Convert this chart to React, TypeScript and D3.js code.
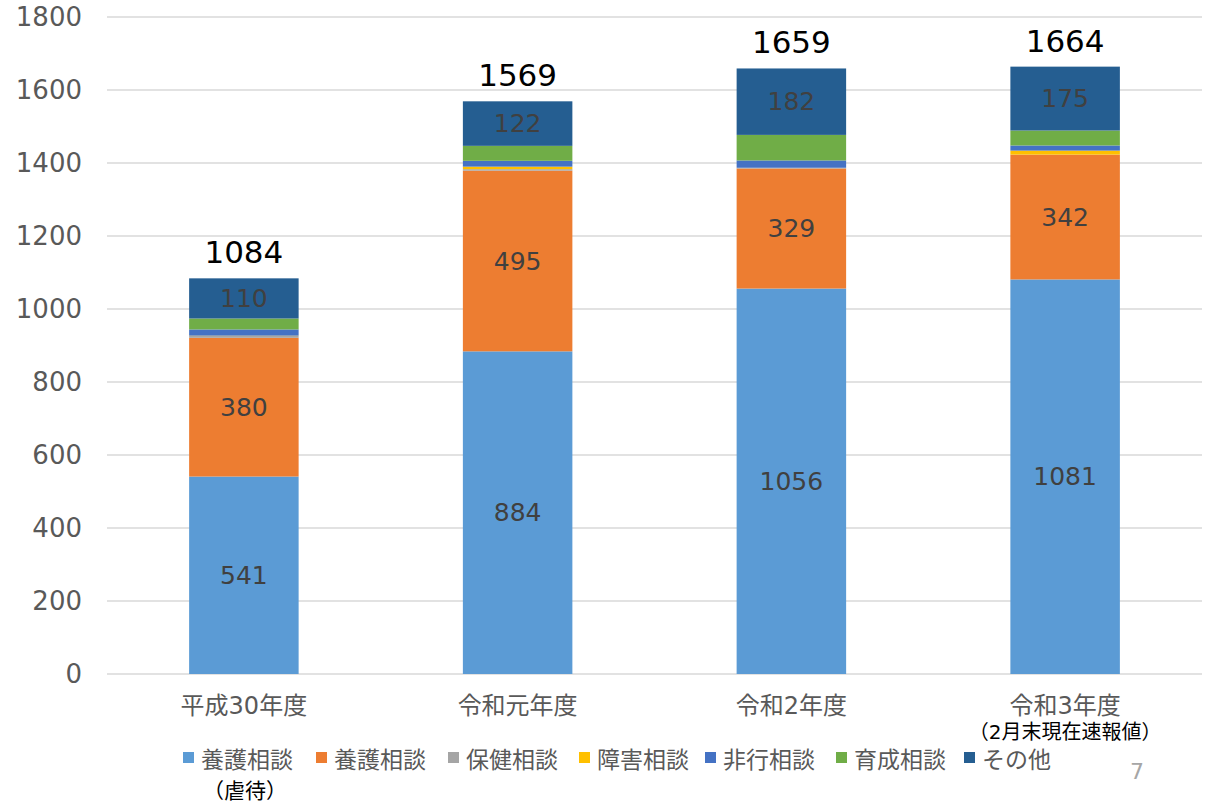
import { useMemo } from "react";
import * as d3 from "d3";

const categories = ["平成30年度", "令和元年度", "令和2年度", "令和3年度"];
const seriesNames = ["養護相談", "養護相談", "保健相談", "障害相談", "非行相談", "育成相談", "その他"];
const seriesColors = ["#5B9BD5", "#ED7D31", "#A5A5A5", "#FFC000", "#4472C4", "#70AD47", "#255E91"];

// per category, in stack order (bottom -> top)
const abuse = [541, 884, 1056, 1081];
const nursing = [380, 495, 329, 342];
const health = [5, 4, 2, 0];
const disability = [1, 7, 0, 11];
const delinquency = [17, 16, 20, 14];
const upbringing = [30, 41, 70, 41];
const other = [110, 122, 182, 175];
const totals = [1084, 1569, 1659, 1664];
const yTicks = [0, 200, 400, 600, 800, 1000, 1200, 1400, 1600, 1800];
const labelledSeries = [0, 1, 6];

const numFont = "'DejaVu Sans', 'Noto Sans CJK JP', sans-serif";
const jpFont = "'Noto Sans CJK JP', sans-serif";

export default function App() {
  const width = 1212;
  const height = 804;
  const plot = { left: 107, right: 1202, top: 17, bottom: 674 };

  const series = [abuse, nursing, health, disability, delinquency, upbringing, other];

  const x = d3
    .scaleBand<string>()
    .domain(categories)
    .range([plot.left, plot.right])
    .paddingInner(0.6)
    .paddingOuter(0.3);
  const y = d3.scaleLinear().domain([0, 1800]).range([plot.bottom, plot.top]);

  const stacked = useMemo(() => {
    const rows = categories.map((c, i) => {
      const r: any = { cat: c };
      series.forEach((s, k) => (r["s" + k] = s[i]));
      return r;
    });
    return d3.stack<any>().keys(series.map((_, k) => "s" + k))(rows);
  }, []);

  const legendX = [183, 316, 448, 579, 705, 836, 964];

  return (
    <svg width={width} height={height} style={{ position: "absolute", left: 0, top: 0 }}>
      <rect width={width} height={height} fill="#fff" />
      {yTicks.map((t) => (
        <g key={t}>
          <line x1={plot.left} x2={plot.right} y1={y(t)} y2={y(t)} stroke="#D9D9D9" strokeWidth={1.5} />
          <text
            x={82}
            y={y(t)}
            textAnchor="end"
            dominantBaseline="central"
            fontFamily={numFont}
            fontSize={26}
            fill="#595959"
          >
            {t}
          </text>
        </g>
      ))}

      {stacked.map((layer, k) => (
        <g key={k} fill={seriesColors[k]}>
          {layer.map((d, i) => {
            const h = y(d[0]) - y(d[1]);
            if (h <= 0) return null;
            return (
              <rect
                key={i}
                x={x(categories[i])}
                y={y(d[1])}
                width={x.bandwidth()}
                height={h}
              />
            );
          })}
        </g>
      ))}

      {stacked
        .filter((_, k) => labelledSeries.includes(k))
        .map((layer) =>
          layer.map((d, i) => (
            <text
              key={layer.key + i}
              x={(x(categories[i]) ?? 0) + x.bandwidth() / 2}
              y={(y(d[0]) + y(d[1])) / 2}
              textAnchor="middle"
              dominantBaseline="central"
              fontFamily={numFont}
              fontSize={25}
              fill="#404040"
            >
              {d[1] - d[0]}
            </text>
          ))
        )}

      {totals.map((t, i) => (
        <text
          key={i}
          x={(x(categories[i]) ?? 0) + x.bandwidth() / 2}
          y={y(t) - 15}
          textAnchor="middle"
          fontFamily={numFont}
          fontSize={31}
          fill="#000"
        >
          {t}
        </text>
      ))}

      {categories.map((c) => (
        <text
          key={c}
          x={(x(c) ?? 0) + x.bandwidth() / 2}
          y={706}
          textAnchor="middle"
          dominantBaseline="central"
          fontFamily={numFont}
          fontSize={24}
          fill="#595959"
        >
          {c}
        </text>
      ))}
      <text
        x={(x(categories[3]) ?? 0) + x.bandwidth() / 2}
        y={732}
        textAnchor="middle"
        dominantBaseline="central"
        fontFamily={numFont}
        fontSize={20}
        fill="#000"
      >
        （2月末現在速報値）
      </text>

      {seriesNames.map((n, k) => (
        <g key={k} transform={`translate(${legendX[k]},758)`}>
          <rect x={0} y={-6} width={11} height={11} fill={seriesColors[k]} />
          <text x={18} y={0} dominantBaseline="central" fontFamily={jpFont} fontSize={23} fill="#595959">
            {n}
          </text>
        </g>
      ))}
      <text x={203} y={789} dominantBaseline="central" fontFamily={jpFont} fontSize={21} fill="#000">
        （虐待）
      </text>

      <text x={1137} y={771} textAnchor="middle" dominantBaseline="central" fontFamily={numFont} fontSize={22} fill="#A6A6A6">
        7
      </text>
    </svg>
  );
}
